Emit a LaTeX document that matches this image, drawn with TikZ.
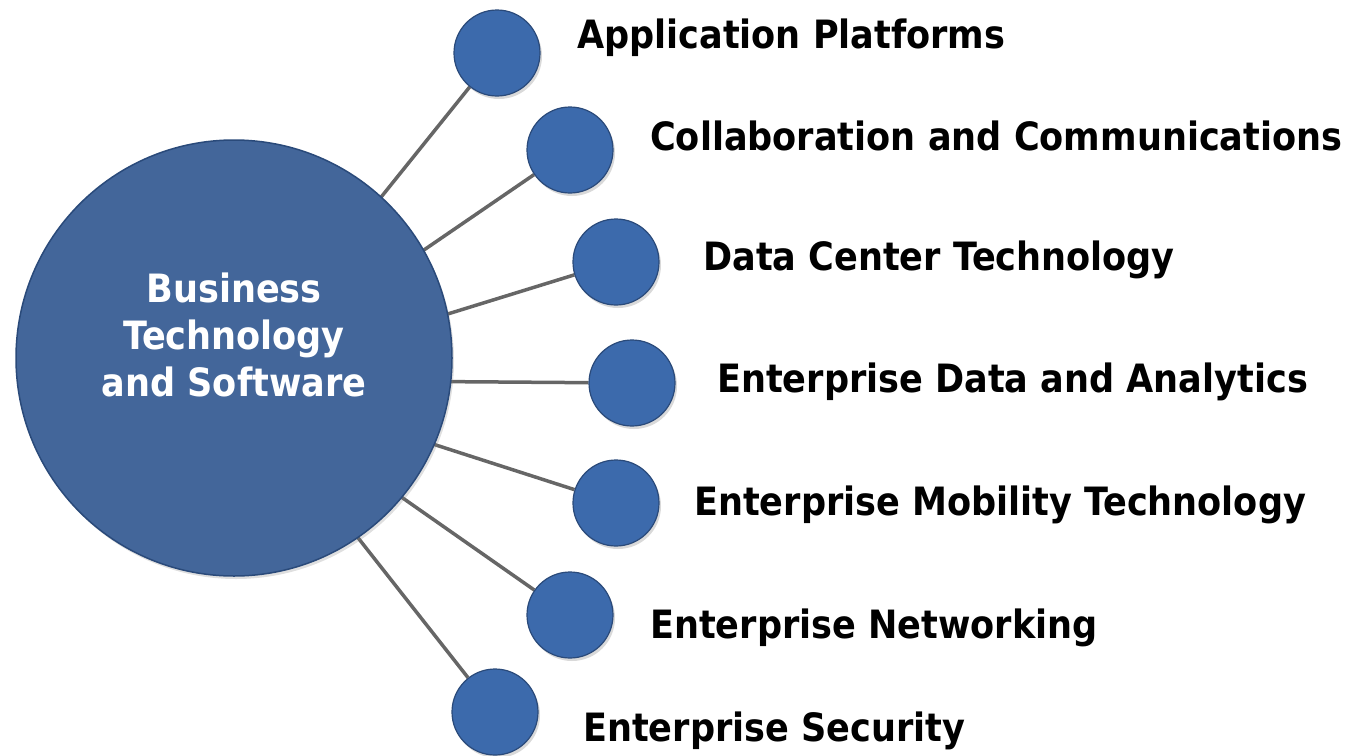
\documentclass[tikz,border=0pt]{standalone}
\usepackage{fontspec}
\setmainfont{DejaVu Sans Condensed}
\usepackage{tikz}
\usetikzlibrary{positioning, shadows, backgrounds}

\definecolor{hubblue}{RGB}{67,102,154}
\definecolor{dotblue}{RGB}{60,106,172}
\definecolor{rimblue}{RGB}{42,74,122}
\definecolor{spoke}{RGB}{102,102,102}

\tikzset{
    hub/.style={circle, fill=hubblue, draw=rimblue, line width=1.5pt, minimum size=436pt,
        drop shadow={opacity=0.25, shadow xshift=2pt, shadow yshift=-3pt}},
    hubtext/.style={text=white, font=\fontsize{39}{47}\selectfont\bfseries, align=center},
    dot/.style={circle, fill=dotblue, draw=rimblue, line width=1.2pt, minimum size=86pt,
        drop shadow={opacity=0.3, shadow xshift=2pt, shadow yshift=-3pt}},
    topic/.style={anchor=base west, inner sep=0pt, font=\fontsize{39}{47}\selectfont\bfseries},
    link/.style={draw=spoke, line width=3.5pt}
}

\begin{document}
\begin{tikzpicture}[x=1pt, y=-1pt]
    \useasboundingbox (0, 0) rectangle (1356, 755);
    \node[hub] (core) at (234, 358) {};
    \node[hubtext] (corel) at (234, 335) {Business\\Technology\\and Software};
    \coordinate (c) at (234, 380);
    \node[dot] (app) at (497, 53) {};
    \node[dot] (collab) at (570, 150) {};
    \node[dot] (dc) at (616, 262) {};
    \node[dot] (eda) at (632, 383) {};
    \node[dot] (emt) at (616, 503) {};
    \node[dot] (net) at (570, 615) {};
    \node[dot] (sec) at (495, 712) {};
    \node[topic] (appl) at (577, 48) {Application Platforms};
    \node[topic] (collabl) at (650, 150) {Collaboration and Communications};
    \node[topic] (dcl) at (703, 270) {Data Center Technology};
    \node[topic] (edal) at (717, 392) {Enterprise Data and Analytics};
    \node[topic] (emtl) at (694, 515) {Enterprise Mobility Technology};
    \node[topic] (netl) at (650, 638) {Enterprise Networking};
    \node[topic] (secl) at (583, 741) {Enterprise Security};
    \begin{scope}[on background layer]
        \draw[link]
        (c) -- (app)
        (c) -- (collab)
        (c) -- (dc)
        (c) -- (eda)
        (c) -- (emt)
        (c) -- (net)
        (c) -- (sec);
    \end{scope}
\end{tikzpicture}
\end{document}
